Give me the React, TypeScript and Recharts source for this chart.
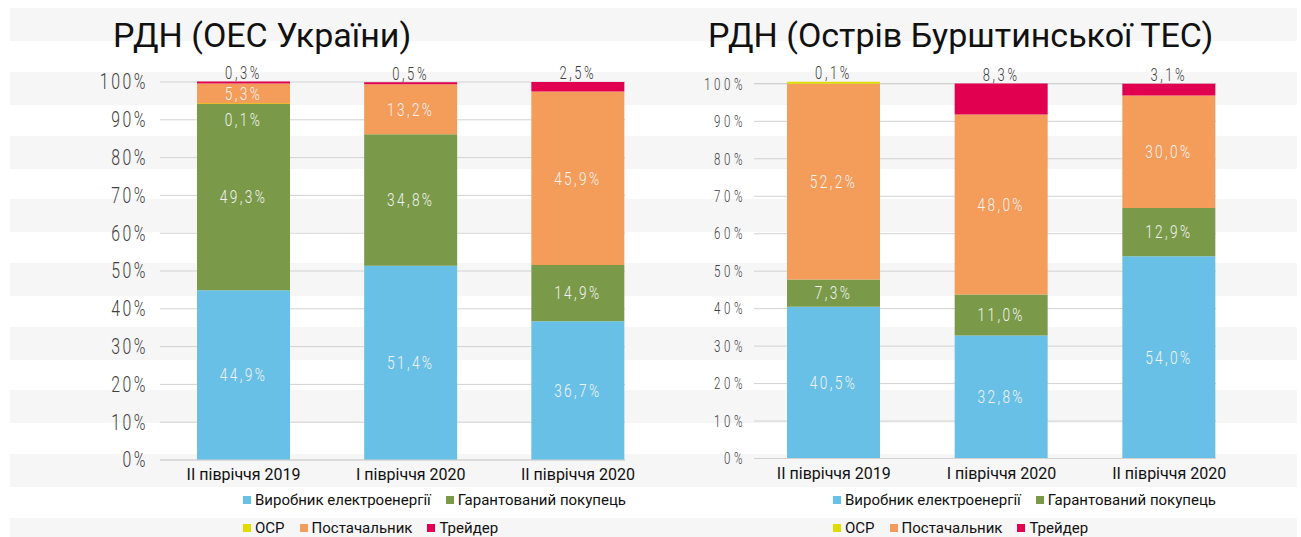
import React from "react";
import { BarChart, Bar, XAxis, YAxis, CartesianGrid, LabelList } from "recharts";

// categories and series
const categories = ["II півріччя 2019", "I півріччя 2020", "II півріччя 2020"];
const seriesKeys = ["vyr", "gar", "osr", "post", "treid"];
const seriesNames = ["Виробник електроенергії", "Гарантований покупець", "ОСР", "Постачальник", "Трейдер"];
const seriesColors = ["#69C0E6", "#7A9A49", "#E0DC00", "#F49C5A", "#E1004F"];
const yTicks = [0, 10, 20, 30, 40, 50, 60, 70, 80, 90, 100];

// РДН (ОЕС України)
const oesVyr = [44.9, 51.4, 36.7];
const oesGar = [49.3, 34.8, 14.9];
const oesOsr = [0.1, 0, 0];
const oesPost = [5.3, 13.2, 45.9];
const oesTreid = [0.3, 0.5, 2.5];

// РДН (Острів Бурштинської ТЕС)
const burVyr = [40.5, 32.8, 54.0];
const burGar = [7.3, 11.0, 12.9];
const burOsr = [0.1, 0, 0];
const burPost = [52.2, 48.0, 30.0];
const burTreid = [0, 8.3, 3.1];

const buildRows = (cols: number[][]) =>
  categories.map((name, i) => {
    const row: Record<string, number | string> = { name };
    seriesKeys.forEach((k, j) => (row[k] = cols[j][i]));
    return row;
  });

const oesData = buildRows([oesVyr, oesGar, oesOsr, oesPost, oesTreid]);
const burData = buildRows([burVyr, burGar, burOsr, burPost, burTreid]);

const SANS = "Roboto, 'Noto Sans', sans-serif";

const fmt = (v: any) => (v ? Number(v).toFixed(1).replace(".", ",") + "%" : "");

// condensed, widely tracked numbers like the original slide
function Narrow({ x, y, text, size, fill, anchor, spacing }: any) {
  if (!text) return null;
  return (
    <text
      transform={`translate(${x},${y}) scale(0.72,1)`}
      textAnchor={anchor}
      dominantBaseline="central"
      fontSize={size}
      fontFamily="Roboto"
      fontWeight={300}
      letterSpacing={spacing}
      fill={fill}
    >
      {text}
    </text>
  );
}

type Mode = "center" | "below" | "top";

const segLabel = (mode: Mode) => (p: any) => {
  const x = Number(p.x), y = Number(p.y), w = Number(p.width), h = Number(p.height);
  const cx = x + w / 2;
  if (mode === "top") return <Narrow x={cx} y={y - 9} text={fmt(p.value)} size={18} spacing={3.6} fill="#404040" anchor="middle" />;
  const cy = mode === "below" ? y + 18 : y + h / 2;
  return <Narrow x={cx} y={cy} text={fmt(p.value)} size={19} spacing={3.3} fill="#f3f3f3" anchor="middle" />;
};

function StackChart({ data, order, modes, left, top, width, plotRight, bottom, yAxisWidth, padLeft, padRight, yTick }: any) {
  const idx = (k: string) => seriesKeys.indexOf(k);
  return (
    <div style={{ position: "absolute", left, top: 0 }}>
      <BarChart
        width={width}
        height={537}
        data={data}
        margin={{ top, right: width - plotRight, bottom: bottom - 30, left: 0 }}
        barSize={93}
      >
        <CartesianGrid vertical={false} stroke="#d2d2d2" />
        <XAxis
          dataKey="name"
          height={30}
          tickLine={false}
          tickSize={0}
          tickMargin={9}
          axisLine={{ stroke: "#d2d2d2" }}
          padding={{ left: padLeft, right: padRight }}
          tick={{ fill: "#111", fontSize: 16, fontFamily: SANS }}
        />
        <YAxis
          width={yAxisWidth}
          domain={[0, 100]}
          ticks={yTicks}
          axisLine={false}
          tickLine={false}
          tickSize={0}
          tickMargin={yTick.margin}
          tick={(p: any) => (
            <Narrow x={p.x} y={p.y} text={p.payload.value + "%"} size={yTick.font} spacing={yTick.spacing} fill="#404040" anchor="end" />
          )}
        />
        {order.map((k: string) => (
          <Bar
            key={k}
            dataKey={k}
            stackId="a"
            fill={seriesColors[idx(k)]}
            name={seriesNames[idx(k)]}
            minPointSize={(_v: any, i: number) => (Number(data[i][k]) > 0 ? 2 : 0)}
            isAnimationActive={false}
          >
            <LabelList dataKey={k} content={segLabel(modes[k])} />
          </Bar>
        ))}
      </BarChart>
    </div>
  );
}

function ChartLegend({ left }: { left: number }) {
  const rows = [[0, 1], [2, 3, 4]];
  return (
    <div style={{ position: "absolute", left, top: 486, fontFamily: SANS, fontSize: 15, color: "#111" }}>
      {rows.map((r, ri) => (
        <div key={ri} style={{ display: "flex", alignItems: "center", height: 28 }}>
          {r.map((i) => (
            <div key={i} style={{ display: "flex", alignItems: "center", marginRight: 15 }}>
              <span style={{ width: 8, height: 8, background: seriesColors[i], marginRight: 4 }} />
              <span>{seriesNames[i]}</span>
            </div>
          ))}
        </div>
      ))}
    </div>
  );
}

const stripeTops = [8, 72, 136, 199, 263, 327, 390, 454, 518];

export default function App() {
  const titleStyle: React.CSSProperties = { position: "absolute", top: 18, fontFamily: SANS, fontSize: 34, lineHeight: "34px", color: "#111", whiteSpace: "nowrap" };
  return (
    <div style={{ position: "fixed", left: 0, top: 0, width: 1301, height: 537, background: "#fff", overflow: "hidden" }}>
      {stripeTops.map((t) => (
        <div key={t} style={{ position: "absolute", left: 10, width: 1287, top: t, height: 33, background: "#f6f6f6" }} />
      ))}
      <div style={{ ...titleStyle, left: 113 }}>РДН (ОЕС України)</div>
      <div style={{ ...titleStyle, left: 708 }}>РДН (Острів Бурштинської ТЕС)</div>
      <StackChart
        data={oesData}
        order={["vyr", "gar", "osr", "post", "treid"]}
        modes={{ vyr: "center", gar: "center", osr: "below", post: "center", treid: "top" }}
        left={0}
        top={82}
        width={680}
        plotRight={625}
        bottom={77}
        yAxisWidth={160}
        padLeft={0}
        padRight={-36.5}
        yTick={{ font: 22, spacing: 3.5, margin: 12 }}
      />
      <StackChart
        data={burData}
        order={["vyr", "gar", "post", "treid", "osr"]}
        modes={{ vyr: "center", gar: "center", post: "center", treid: "top", osr: "top" }}
        left={590}
        top={83.5}
        width={711}
        plotRight={626}
        bottom={78.5}
        yAxisWidth={164}
        padLeft={-4}
        padRight={-37}
        yTick={{ font: 16, spacing: 4.9, margin: 8 }}
      />
      <ChartLegend left={243} />
      <ChartLegend left={833} />
    </div>
  );
}
